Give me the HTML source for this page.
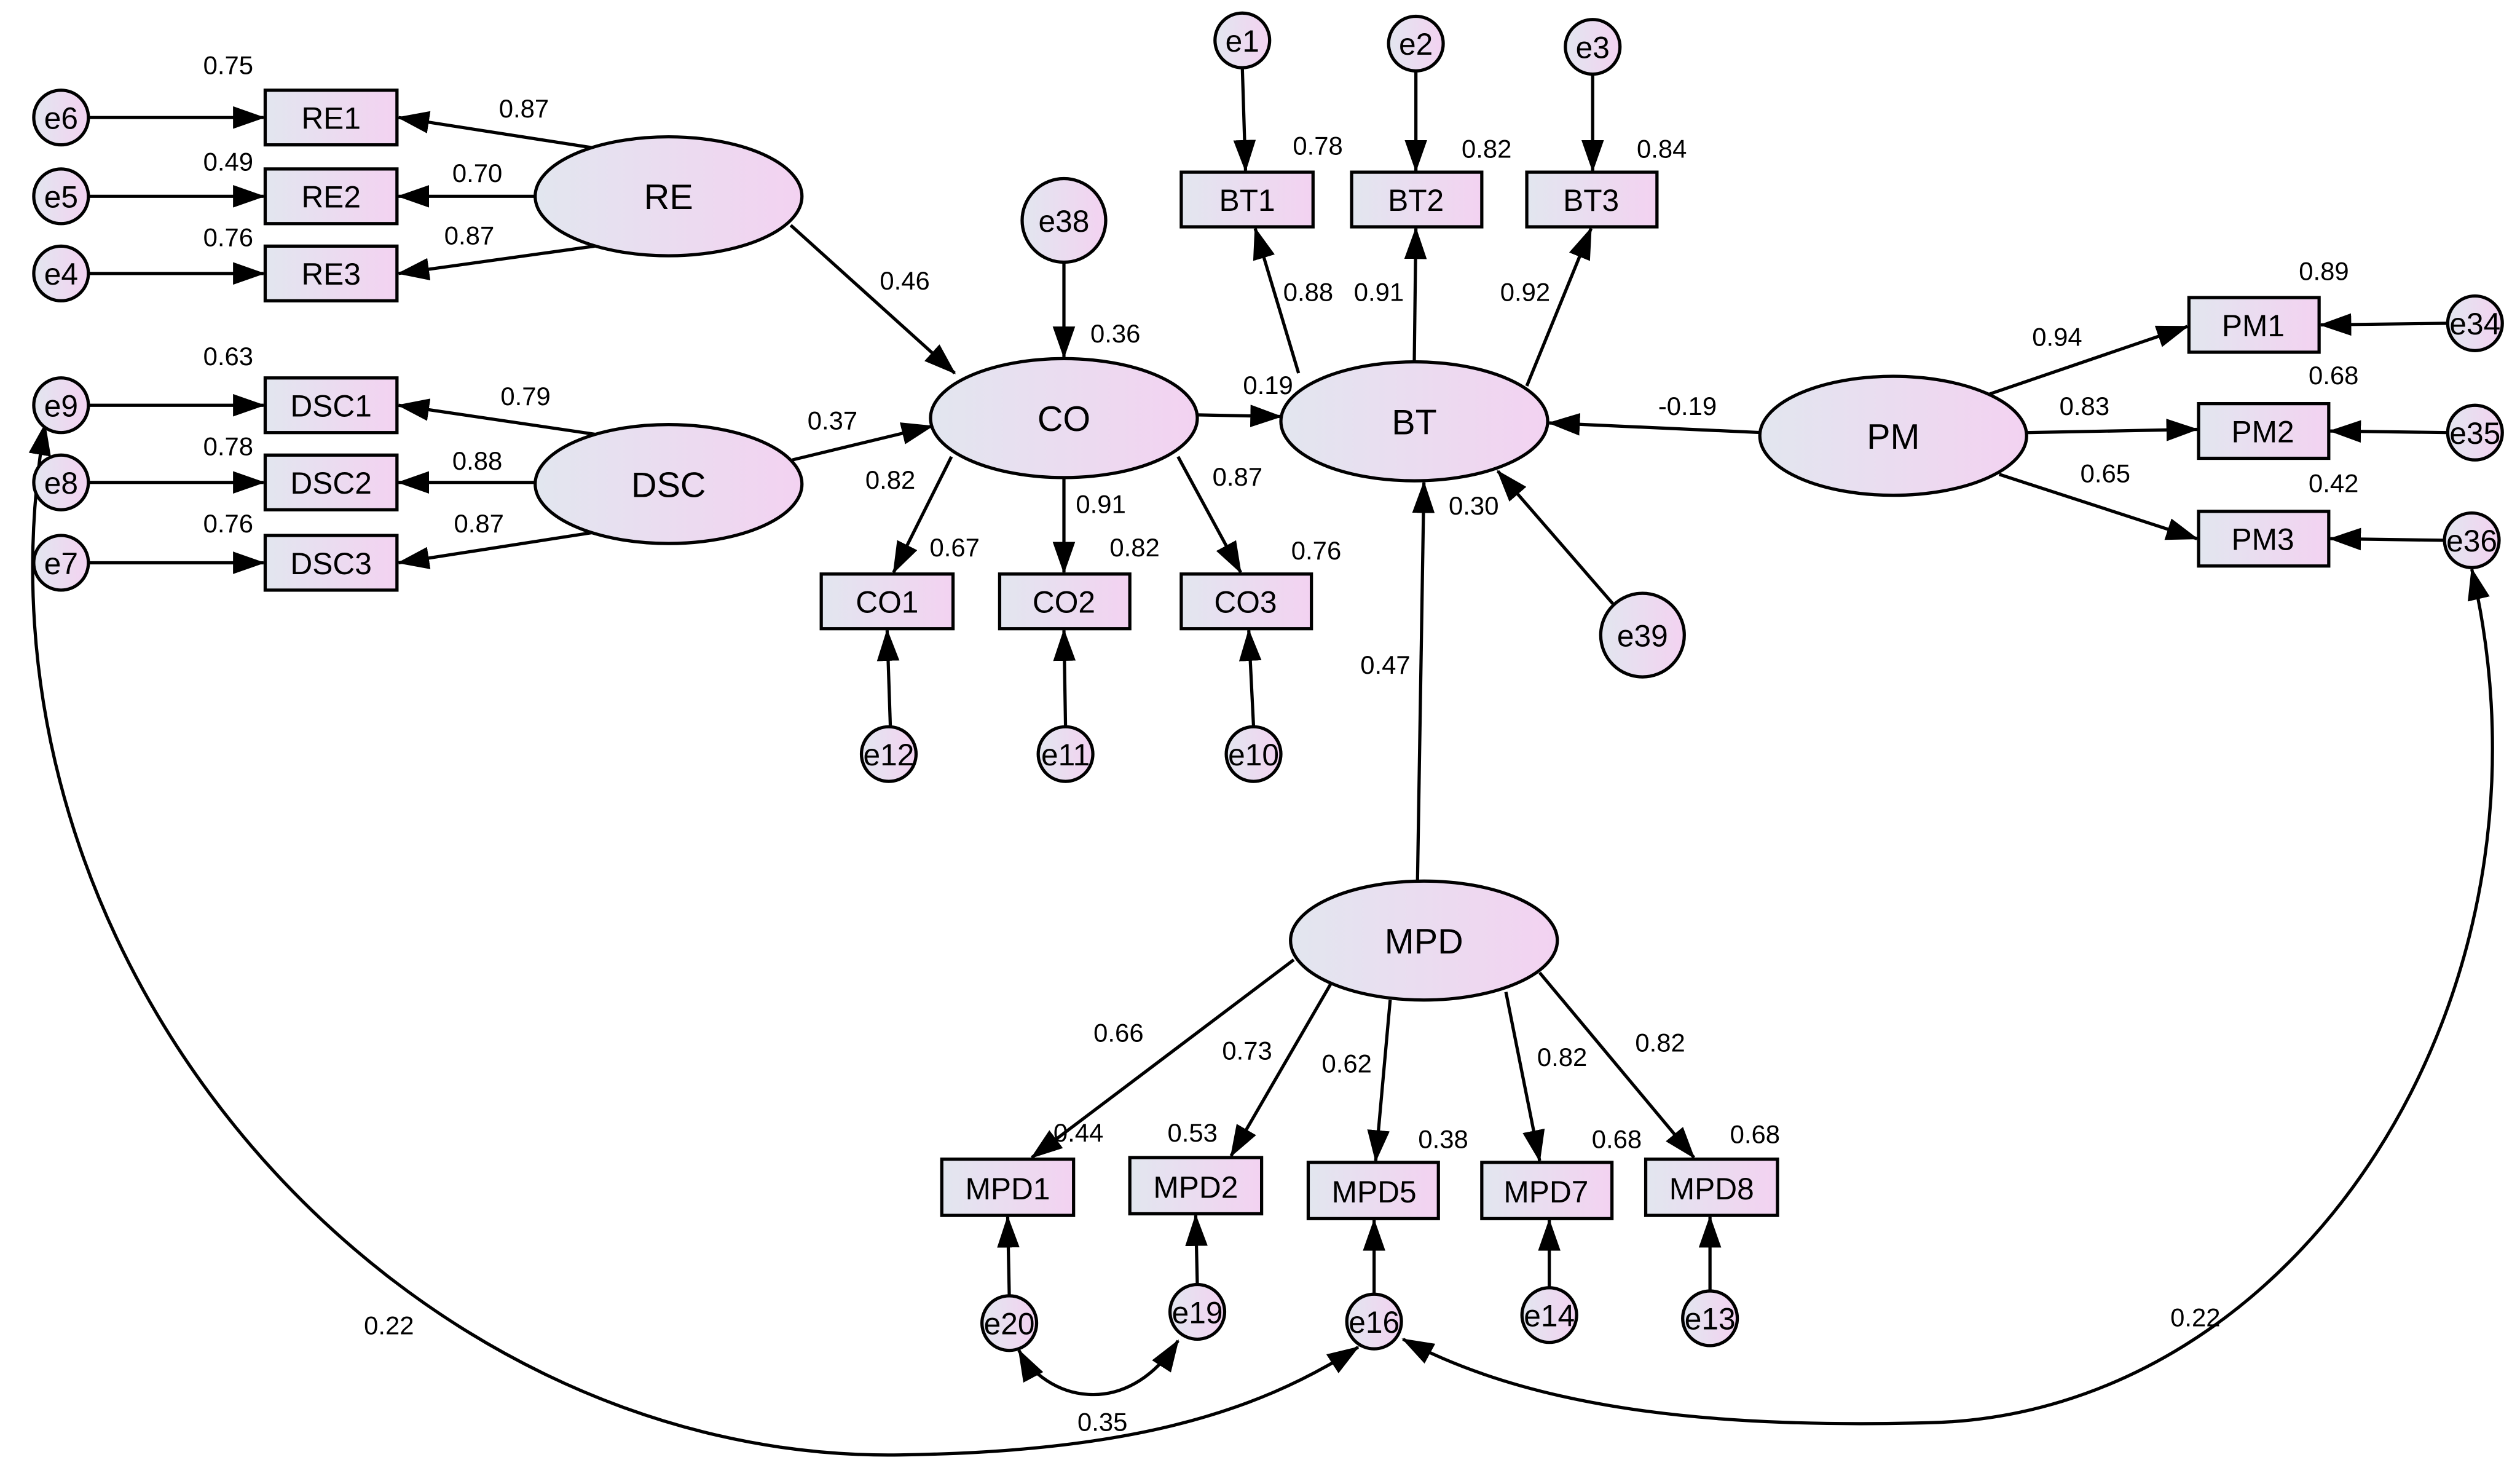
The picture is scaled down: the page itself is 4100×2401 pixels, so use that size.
<!DOCTYPE html>
<html><head><meta charset="utf-8"><style>
html,body{margin:0;padding:0;background:#fff}
svg{display:block}
text{font-family:"Liberation Sans",Arial,sans-serif}
</style></head><body>
<svg width="4100" height="2401" viewBox="0 0 1568 918" xmlns="http://www.w3.org/2000/svg">
<defs>
<linearGradient id="g" x1="0" x2="1" y1="0" y2="0"><stop offset="0" stop-color="#e2e6ef"/><stop offset="1" stop-color="#f3d2f1"/></linearGradient>
<marker id="a" markerWidth="10" markerHeight="8" refX="9.5" refY="4" orient="auto" markerUnits="userSpaceOnUse" viewBox="0 0 10 8"><path d="M0,0 L10,4 L0,8z" fill="#000"/></marker>
<marker id="a2" markerWidth="20" markerHeight="14" refX="19" refY="7" orient="auto" markerUnits="userSpaceOnUse" viewBox="0 0 20 14"><path d="M0,0 L20,7 L0,14z" fill="#000"/></marker>
<marker id="b2" markerWidth="20" markerHeight="14" refX="1" refY="7" orient="auto" markerUnits="userSpaceOnUse" viewBox="0 0 20 14"><path d="M20,0 L0,7 L20,14z" fill="#000"/></marker>
</defs>
<g stroke="#000" stroke-width="2" fill="none" marker-end="url(#a2)">
<!-- RE -->
<line x1="370" y1="92" x2="248" y2="73"/>
<line x1="333" y1="122" x2="248" y2="122"/>
<line x1="370" y1="153" x2="248" y2="170"/>
<line x1="55" y1="73" x2="164" y2="73"/>
<line x1="55" y1="122" x2="164" y2="122"/>
<line x1="55" y1="170" x2="164" y2="170"/>
<!-- DSC -->
<line x1="370" y1="270" x2="248" y2="252"/>
<line x1="333" y1="300" x2="248" y2="300"/>
<line x1="370" y1="331" x2="248" y2="350"/>
<line x1="55" y1="252" x2="164" y2="252"/>
<line x1="55" y1="300" x2="164" y2="300"/>
<line x1="55" y1="350" x2="164" y2="350"/>
<!-- structural -->
<line x1="492" y1="140" x2="594" y2="232"/>
<line x1="493" y1="286" x2="580" y2="265"/>
<line x1="662" y1="163" x2="662" y2="222"/>
<line x1="745" y1="258" x2="797" y2="259"/>
<line x1="1096" y1="269" x2="964" y2="263"/>
<line x1="882" y1="548" x2="886" y2="300"/>
<line x1="1004" y1="376" x2="932" y2="293"/>
<!-- CO -->
<line x1="592" y1="284" x2="556" y2="356"/>
<line x1="662" y1="297" x2="662" y2="356"/>
<line x1="733" y1="284" x2="772" y2="356"/>
<line x1="554" y1="452" x2="552" y2="392"/>
<line x1="663" y1="452" x2="662" y2="392"/>
<line x1="780" y1="452" x2="777" y2="392"/>
<!-- BT -->
<line x1="808" y1="232" x2="781" y2="142"/>
<line x1="880" y1="225" x2="881" y2="142"/>
<line x1="950" y1="240" x2="990" y2="142"/>
<line x1="773" y1="42" x2="775" y2="106"/>
<line x1="881" y1="44" x2="881" y2="106"/>
<line x1="991" y1="46" x2="991" y2="106"/>
<!-- PM -->
<line x1="1238" y1="245" x2="1361" y2="203"/>
<line x1="1261" y1="269" x2="1367" y2="267"/>
<line x1="1244" y1="295" x2="1367" y2="335"/>
<line x1="1523" y1="201" x2="1444" y2="202"/>
<line x1="1523" y1="269" x2="1450" y2="268"/>
<line x1="1521" y1="336" x2="1450" y2="335"/>
<!-- MPD -->
<line x1="805" y1="597" x2="642" y2="720"/>
<line x1="828" y1="612" x2="766" y2="719"/>
<line x1="865" y1="622" x2="856" y2="722"/>
<line x1="937" y1="617" x2="958" y2="722"/>
<line x1="958" y1="605" x2="1054" y2="720"/>
<line x1="628" y1="806" x2="627" y2="757"/>
<line x1="745" y1="799" x2="744" y2="756"/>
<line x1="855" y1="805" x2="855" y2="759"/>
<line x1="964" y1="801" x2="964" y2="759"/>
<line x1="1064" y1="803" x2="1064" y2="757"/>
</g>
<!-- covariances -->
<g stroke="#000" stroke-width="2" fill="none" marker-start="url(#b2)" marker-end="url(#a2)">
<path d="M28,264 C-30,600 250,910 560,905 C700,903 780,880 845,838"/>
<path d="M873,833 C960,880 1080,888 1200,885 C1430,880 1600,620 1538,354"/>
<path d="M634,840 C650,870 700,885 733,834"/>
</g>
<!-- ellipses -->
<g stroke="#000" stroke-width="2" fill="url(#g)">
<ellipse cx="416" cy="122" rx="83" ry="37"/>
<ellipse cx="416" cy="301" rx="83" ry="37"/>
<ellipse cx="662" cy="260" rx="83" ry="37"/>
<ellipse cx="880" cy="262" rx="83" ry="37"/>
<ellipse cx="1178" cy="271" rx="83" ry="37"/>
<ellipse cx="886" cy="585" rx="83" ry="37"/>
</g>
<!-- rects -->
<g stroke="#000" stroke-width="2" fill="url(#g)">
<rect x="165" y="56" width="82" height="34"/><rect x="165" y="105" width="82" height="34"/><rect x="165" y="153" width="82" height="34"/>
<rect x="165" y="235" width="82" height="34"/><rect x="165" y="283" width="82" height="34"/><rect x="165" y="333" width="82" height="34"/>
<rect x="511" y="357" width="82" height="34"/><rect x="622" y="357" width="81" height="34"/><rect x="735" y="357" width="81" height="34"/>
<rect x="735" y="107" width="82" height="34"/><rect x="841" y="107" width="81" height="34"/><rect x="950" y="107" width="81" height="34"/>
<rect x="1362" y="185" width="81" height="34"/><rect x="1368" y="251" width="81" height="34"/><rect x="1368" y="318" width="81" height="34"/>
<rect x="586" y="721" width="82" height="35"/><rect x="703" y="720" width="82" height="35"/><rect x="814" y="723" width="81" height="35"/><rect x="922" y="723" width="81" height="35"/><rect x="1024" y="721" width="82" height="35"/>
</g>
<!-- circles -->
<g stroke="#000" stroke-width="2" fill="url(#g)">
<circle cx="38" cy="73" r="17"/><circle cx="38" cy="122" r="17"/><circle cx="38" cy="170" r="17"/>
<circle cx="38" cy="252" r="17"/><circle cx="38" cy="300" r="17"/><circle cx="38" cy="350" r="17"/>
<circle cx="553" cy="469" r="17"/><circle cx="663" cy="469" r="17"/><circle cx="780" cy="469" r="17"/>
<circle cx="773" cy="25" r="17"/><circle cx="881" cy="27" r="17"/><circle cx="991" cy="29" r="17"/>
<circle cx="662" cy="137" r="26"/><circle cx="1022" cy="395" r="26"/>
<circle cx="1540" cy="201" r="17"/><circle cx="1540" cy="269" r="17"/><circle cx="1538" cy="336" r="17"/>
<circle cx="628" cy="823" r="17"/><circle cx="745" cy="816" r="17"/><circle cx="855" cy="822" r="17"/><circle cx="964" cy="818" r="17"/><circle cx="1064" cy="820" r="17"/>
</g>
<!-- node labels -->
<g font-size="22" text-anchor="middle" fill="#000">
<text x="416" y="130">RE</text><text x="416" y="309">DSC</text><text x="662" y="268">CO</text><text x="880" y="270">BT</text><text x="1178" y="279">PM</text><text x="886" y="593">MPD</text>
</g>
<g font-size="19" text-anchor="middle" fill="#000">
<text x="206" y="80">RE1</text><text x="206" y="129">RE2</text><text x="206" y="177">RE3</text>
<text x="206" y="259">DSC1</text><text x="206" y="307">DSC2</text><text x="206" y="357">DSC3</text>
<text x="552" y="381">CO1</text><text x="662" y="381">CO2</text><text x="775" y="381">CO3</text>
<text x="776" y="131">BT1</text><text x="881" y="131">BT2</text><text x="990" y="131">BT3</text>
<text x="1402" y="209">PM1</text><text x="1408" y="275">PM2</text><text x="1408" y="342">PM3</text>
<text x="627" y="746">MPD1</text><text x="744" y="745">MPD2</text><text x="855" y="748">MPD5</text><text x="962" y="748">MPD7</text><text x="1065" y="746">MPD8</text>
<text x="38" y="80">e6</text><text x="38" y="129">e5</text><text x="38" y="177">e4</text>
<text x="38" y="259">e9</text><text x="38" y="307">e8</text><text x="38" y="357">e7</text>
<text x="553" y="476">e12</text><text x="663" y="476">e11</text><text x="780" y="476">e10</text>
<text x="773" y="32">e1</text><text x="881" y="34">e2</text><text x="991" y="36">e3</text>
<text x="662" y="144">e38</text><text x="1022" y="402">e39</text>
<text x="1540" y="208">e34</text><text x="1540" y="276">e35</text><text x="1538" y="343">e36</text>
<text x="628" y="830">e20</text><text x="745" y="823">e19</text><text x="855" y="829">e16</text><text x="964" y="825">e14</text><text x="1064" y="827">e13</text>
</g>
<!-- coefficients -->
<g font-size="16" fill="#000" text-anchor="middle">
<text x="142" y="46">0.75</text><text x="326" y="73">0.87</text>
<text x="142" y="106">0.49</text><text x="297" y="113">0.70</text>
<text x="142" y="153">0.76</text><text x="292" y="152">0.87</text>
<text x="142" y="227">0.63</text><text x="327" y="252">0.79</text>
<text x="142" y="283">0.78</text><text x="297" y="292">0.88</text>
<text x="142" y="331">0.76</text><text x="298" y="331">0.87</text>
<text x="563" y="180">0.46</text><text x="518" y="267">0.37</text>
<text x="694" y="213">0.36</text><text x="789" y="245">0.19</text>
<text x="554" y="304">0.82</text><text x="594" y="346">0.67</text>
<text x="685" y="319">0.91</text><text x="706" y="346">0.82</text>
<text x="770" y="302">0.87</text><text x="819" y="348">0.76</text>
<text x="820" y="96">0.78</text><text x="925" y="98">0.82</text><text x="1034" y="98">0.84</text>
<text x="814" y="187">0.88</text><text x="858" y="187">0.91</text><text x="949" y="187">0.92</text>
<text x="917" y="320">0.30</text><text x="862" y="419">0.47</text>
<text x="1050" y="258">-0.19</text>
<text x="1446" y="174">0.89</text><text x="1280" y="215">0.94</text>
<text x="1452" y="239">0.68</text><text x="1297" y="258">0.83</text>
<text x="1452" y="306">0.42</text><text x="1310" y="300">0.65</text>
<text x="696" y="648">0.66</text><text x="671" y="710">0.44</text>
<text x="776" y="659">0.73</text><text x="742" y="710">0.53</text>
<text x="838" y="667">0.62</text><text x="898" y="714">0.38</text>
<text x="972" y="663">0.82</text><text x="1006" y="714">0.68</text>
<text x="1033" y="654">0.82</text><text x="1092" y="711">0.68</text>
<text x="242" y="830">0.22</text><text x="1366" y="825">0.22</text><text x="686" y="890">0.35</text>
</g>
</svg>
</body></html>
